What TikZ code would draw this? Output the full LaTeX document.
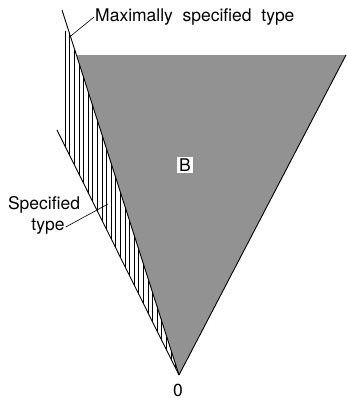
\documentclass[tikz,border=0pt]{standalone}
\usepackage{fontspec}
\setmainfont{TeX Gyre Heros}
\usepackage{tikz}
\usetikzlibrary{calc}
\definecolor{regiongray}{HTML}{929292}
\tikzset{
  lbl/.style={font=\fontsize{17.5}{20}\selectfont, inner sep=1pt},
  edge/.style={line width=0.9pt},
  hatch/.style={line width=0.5pt}
}

\begin{document}
\begin{tikzpicture}[x=1pt, y=-1pt]
  \useasboundingbox (0,0) rectangle (347,402);
  \coordinate (O) at (179,375);
  \coordinate (maxtop) at (62,10);
  \coordinate (spectop) at (57,130);
  \coordinate (topL) at ($(O)!0.8767!(maxtop)$);
  \coordinate (topR) at (346,55);
  \fill[regiongray] (topL) -- (topR) -- (O) -- cycle;
  \begin{scope}
    \clip (O) -- (68.4,30) -- (63,32) -- (62,140) -- cycle;
    \foreach \x in {65,69.6,...,180}
      \draw[hatch] (\x,20) -- (\x,380);
  \end{scope}
  \draw[edge] (maxtop) -- (O);
  \draw[edge] (spectop) -- (O);
  \draw[edge] (topR) -- (O);
  \node[lbl, fill=white, inner sep=2pt] (blbl) at (185,165) {B};
  \node[lbl, anchor=west] (maxlbl) at (94,17) {Maximally\ \ specified\ \ type};
  \coordinate (maxpt) at ($(O)!0.928!(maxtop)$);
  \draw[line width=0.6pt] (maxpt) -- (maxlbl.west);
  \node[lbl] (speclbl) at (44,205) {Specified};
  \node[lbl] (typelbl) at (48,227) {type};
  \coordinate (specpt) at (108,204);
  \draw[line width=0.6pt] (typelbl.east) -- (specpt);
  \node[lbl] (olbl) at (178,390) {0};
\end{tikzpicture}
\end{document}
